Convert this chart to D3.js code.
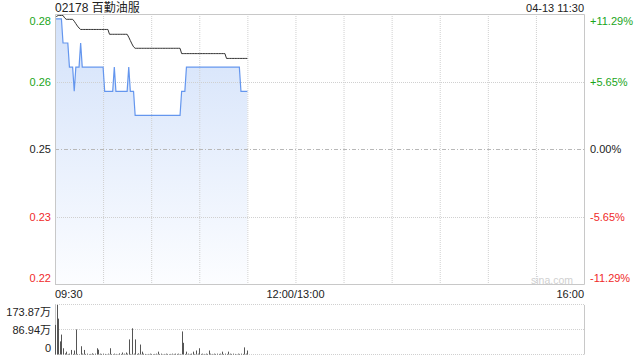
<!DOCTYPE html>
<html>
<head>
<meta charset="utf-8">
<script src="https://cdn.jsdelivr.net/npm/d3@7"></script>
<style>
  html, body { margin: 0; padding: 0; background: #fff; }
  svg { display: block; font-family: "Liberation Sans", Arial, "Noto Sans CJK SC", sans-serif; }
</style>
</head>
<body>
<div id="chart"></div>
<script>
const TITLE = '02178 百勤油服';
const STAMP = '04-13 11:30';
const PREV_CLOSE = 0.248;

// one value per minute from 09:30 to 11:30
const PRICES = [
  0.275, 0.275, 0.275, 0.275, 0.275, 0.270, 0.270, 0.270, 0.270, 0.265,
  0.265, 0.265, 0.260, 0.265, 0.265, 0.265, 0.270, 0.265, 0.265, 0.265,
  0.265, 0.265, 0.265, 0.265, 0.265, 0.265, 0.265, 0.265, 0.265, 0.265,
  0.265, 0.260, 0.260, 0.260, 0.260, 0.260, 0.260, 0.265, 0.260, 0.260,
  0.260, 0.260, 0.260, 0.260, 0.260, 0.260, 0.265, 0.260, 0.260, 0.260,
  0.255, 0.255, 0.255, 0.255, 0.255, 0.255, 0.255, 0.255, 0.255, 0.255,
  0.255, 0.255, 0.255, 0.255, 0.255, 0.255, 0.255, 0.255, 0.255, 0.255,
  0.255, 0.255, 0.255, 0.255, 0.255, 0.255, 0.255, 0.255, 0.255, 0.260,
  0.260, 0.260, 0.265, 0.265, 0.265, 0.265, 0.265, 0.265, 0.265, 0.265,
  0.265, 0.265, 0.265, 0.265, 0.265, 0.265, 0.265, 0.265, 0.265, 0.265,
  0.265, 0.265, 0.265, 0.265, 0.265, 0.265, 0.265, 0.265, 0.265, 0.265,
  0.265, 0.265, 0.265, 0.265, 0.265, 0.265, 0.260, 0.260, 0.260, 0.260,
  0.260
];

const AVG_PRICES = [
  0.2753, 0.2755, 0.2757, 0.2757, 0.2757, 0.2757, 0.2752, 0.2749, 0.2749, 0.2749,
  0.2749, 0.2749, 0.2745, 0.2740, 0.2735, 0.2731, 0.2728, 0.2728, 0.2728, 0.2728,
  0.2728, 0.2728, 0.2728, 0.2728, 0.2728, 0.2728, 0.2728, 0.2728, 0.2728, 0.2728,
  0.2728, 0.2728, 0.2728, 0.2728, 0.2718, 0.2718, 0.2718, 0.2718, 0.2718, 0.2718,
  0.2718, 0.2718, 0.2718, 0.2718, 0.2718, 0.2718, 0.2712, 0.2705, 0.2698, 0.2692,
  0.2689, 0.2689, 0.2689, 0.2689, 0.2689, 0.2689, 0.2689, 0.2689, 0.2689, 0.2689,
  0.2689, 0.2689, 0.2689, 0.2689, 0.2689, 0.2689, 0.2689, 0.2689, 0.2689, 0.2689,
  0.2689, 0.2689, 0.2689, 0.2689, 0.2689, 0.2689, 0.2689, 0.2689, 0.2689, 0.2678,
  0.2678, 0.2678, 0.2678, 0.2678, 0.2678, 0.2678, 0.2678, 0.2678, 0.2678, 0.2678,
  0.2678, 0.2678, 0.2678, 0.2678, 0.2678, 0.2678, 0.2678, 0.2678, 0.2678, 0.2678,
  0.2678, 0.2678, 0.2678, 0.2678, 0.2678, 0.2678, 0.2678, 0.2668, 0.2668, 0.2668,
  0.2668, 0.2668, 0.2668, 0.2668, 0.2668, 0.2668, 0.2668, 0.2668, 0.2668, 0.2668,
  0.2668
];

// volume in 万 shares
const VOLUMES = [
  104, 174, 126, 46, 70, 22, 4, 10, 2, 3,
  16, 2, 14, 88, 2, 1, 29, 3, 16, 2,
  3, 1, 2, 4, 2, 3, 22, 17, 3, 2,
  3, 2, 1, 3, 22, 2, 1, 3, 2, 1,
  4, 2, 7, 3, 7, 3, 53, 2, 92, 3,
  53, 2, 4, 35, 10, 3, 2, 1, 2, 3,
  2, 1, 2, 3, 10, 2, 3, 1, 2, 3,
  2, 1, 2, 3, 2, 3, 2, 3, 2, 81,
  41, 2, 10, 3, 2, 3, 10, 2, 14, 3,
  22, 2, 3, 2, 3, 2, 14, 3, 2, 3,
  2, 3, 2, 3, 10, 2, 3, 2, 10, 3,
  2, 3, 2, 1, 3, 2, 3, 2, 25, 3,
  14
];

const PCT_TICKS = [11.29, 5.65, 0, -5.65, -11.29];
const PRICE_LABELS = ['0.28', '0.26', '0.25', '0.23', '0.22'];
const PCT_LABELS = ['+11.29%', '+5.65%', '0.00%', '-5.65%', '-11.29%'];
const VOL_TICKS = [173.87, 86.94, 0];
const VOL_LABELS = ['173.87万', '86.94万', '0'];
const TIME_TICKS = [0, 150, 330];
const TIME_LABELS = ['09:30', '12:00/13:00', '16:00'];
const GRID_MINUTES = [30, 60, 90, 120, 150, 180, 210, 240, 270, 300];

const GREEN = '#1aa51a', RED = '#f02a2a', DARK = '#222';

const W = 640, H = 360;
const L = 55, R = 584;
const pTop = 14, pBot = 284.5;
const vTop = 305, vBot = 354.5;

const svg = d3.select('#chart').append('svg')
  .attr('width', W).attr('height', H);

const x = d3.scaleLinear().domain([0, 330]).range([L, R]);
const y = d3.scaleLinear()
  .domain([PREV_CLOSE * (1 - 0.1129), PREV_CLOSE * (1 + 0.1129)])
  .range([pBot, pTop]);
const yPct = p => y(PREV_CLOSE * (1 + p / 100));
const yv = d3.scaleLinear().domain([0, 173.87]).range([vBot, vTop]);

const tickColor = p => p > 0 ? GREEN : (p < 0 ? RED : DARK);
const clampY = (v, lo, hi) => Math.max(lo + 6.5, Math.min(hi - 7, v));

// gradient for area
const grad = svg.append('defs').append('linearGradient')
  .attr('id', 'fillGrad')
  .attr('gradientUnits', 'userSpaceOnUse')
  .attr('x1', 0).attr('y1', pTop).attr('x2', 0).attr('y2', pBot);
grad.append('stop').attr('offset', '0%').attr('stop-color', '#d2e1fa');
grad.append('stop').attr('offset', '100%').attr('stop-color', '#fcfdff');

// area first, grid on top of it
const idx = d3.range(PRICES.length);
svg.append('path')
  .datum(idx)
  .attr('fill', 'url(#fillGrad)')
  .attr('d', d3.area().x(i => x(i)).y0(pBot).y1(i => y(PRICES[i])));

const grid = svg.append('g');
grid.selectAll('.vgrid')
  .data(GRID_MINUTES)
  .join('line')
  .attr('x1', d => x(d) + 0.5).attr('x2', d => x(d) + 0.5)
  .attr('y1', pTop).attr('y2', pBot)
  .attr('stroke', '#d0d0d0')
  .attr('stroke-dasharray', '1,1');

grid.selectAll('.hgrid')
  .data(PCT_TICKS.filter(p => Math.abs(p) > 0 && Math.abs(p) < 11))
  .join('line')
  .attr('x1', L).attr('x2', R)
  .attr('y1', d => Math.round(yPct(d)) + 0.5).attr('y2', d => Math.round(yPct(d)) + 0.5)
  .attr('stroke', '#d0d0d0')
  .attr('stroke-dasharray', '1,1');

grid.append('line')
  .attr('x1', L).attr('x2', R)
  .attr('y1', Math.round(yPct(0)) + 0.5).attr('y2', Math.round(yPct(0)) + 0.5)
  .attr('stroke', '#b8b8b8')
  .attr('stroke-dasharray', '4,2,1,2');

svg.append('path')
  .datum(idx)
  .attr('fill', 'none')
  .attr('stroke', '#6496ee')
  .attr('stroke-width', 1.2)
  .attr('d', d3.line().x(i => x(i)).y(i => y(PRICES[i])));

svg.append('path')
  .datum(idx)
  .attr('fill', 'none')
  .attr('stroke', '#333')
  .attr('stroke-width', 1)
  .attr('d', d3.line().x(i => x(i)).y(i => y(AVG_PRICES[i])));

// price frame
svg.append('path')
  .attr('fill', 'none')
  .attr('stroke', '#c8c8c8')
  .attr('d', `M${L + 0.5},${pBot}V${pTop + 0.5}H${R + 0.5}V${pBot}H${L}`);

// axis labels
svg.selectAll('.plab')
  .data(PCT_TICKS)
  .join('text')
  .attr('x', 51).attr('y', d => clampY(yPct(d), pTop, pBot))
  .attr('text-anchor', 'end').attr('dominant-baseline', 'central')
  .attr('font-size', '11px')
  .attr('fill', d => tickColor(d))
  .text((d, i) => PRICE_LABELS[i]);

svg.selectAll('.rlab')
  .data(PCT_TICKS)
  .join('text')
  .attr('x', 590).attr('y', d => clampY(yPct(d), pTop, pBot))
  .attr('dominant-baseline', 'central')
  .attr('font-size', '11px')
  .attr('fill', d => tickColor(d))
  .text((d, i) => PCT_LABELS[i]);

svg.selectAll('.tlab')
  .data(TIME_TICKS)
  .join('text')
  .attr('x', d => x(d)).attr('y', 294)
  .attr('text-anchor', (d, i) => i === 0 ? 'start' : (i === TIME_TICKS.length - 1 ? 'end' : 'middle'))
  .attr('dominant-baseline', 'central')
  .attr('font-size', '11px')
  .attr('fill', DARK)
  .text((d, i) => TIME_LABELS[i]);

svg.append('text')
  .attr('x', 55).attr('y', 8)
  .attr('dominant-baseline', 'central')
  .attr('font-size', '12px').attr('fill', DARK)
  .text(TITLE);

svg.append('text')
  .attr('x', R).attr('y', 8)
  .attr('text-anchor', 'end').attr('dominant-baseline', 'central')
  .attr('font-size', '11px').attr('fill', DARK)
  .text(STAMP);

svg.append('text')
  .attr('x', 573).attr('y', 279.5)
  .attr('text-anchor', 'end').attr('dominant-baseline', 'central')
  .attr('font-size', '10.5px').attr('fill', '#d0d0d0')
  .text('sina.com');

// volume panel
svg.selectAll('.vgridh')
  .data(VOL_TICKS)
  .join('line')
  .attr('x1', L).attr('x2', R)
  .attr('y1', d => Math.round(yv(d)) - 0.5).attr('y2', d => Math.round(yv(d)) - 0.5)
  .attr('stroke', '#d0d0d0')
  .attr('stroke-dasharray', '1,1');

svg.append('path')
  .attr('fill', 'none')
  .attr('stroke', '#c8c8c8')
  .attr('d', `M${L + 0.5},${vTop}V${vBot}M${R + 0.5},${vTop}V${vBot}`);

svg.selectAll('.vbar')
  .data(idx)
  .join('line')
  .attr('x1', i => Math.round(x(i)) + 0.5).attr('x2', i => Math.round(x(i)) + 0.5)
  .attr('y1', yv(0)).attr('y2', i => yv(VOLUMES[i]))
  .attr('stroke', '#555')
  .attr('stroke-width', 1);

svg.selectAll('.vlab')
  .data(VOL_TICKS)
  .join('text')
  .attr('x', 51).attr('y', d => clampY(yv(d), vTop, vBot))
  .attr('text-anchor', 'end').attr('dominant-baseline', 'central')
  .attr('font-size', '11px').attr('fill', DARK)
  .text((d, i) => VOL_LABELS[i]);
</script>
</body>
</html>
